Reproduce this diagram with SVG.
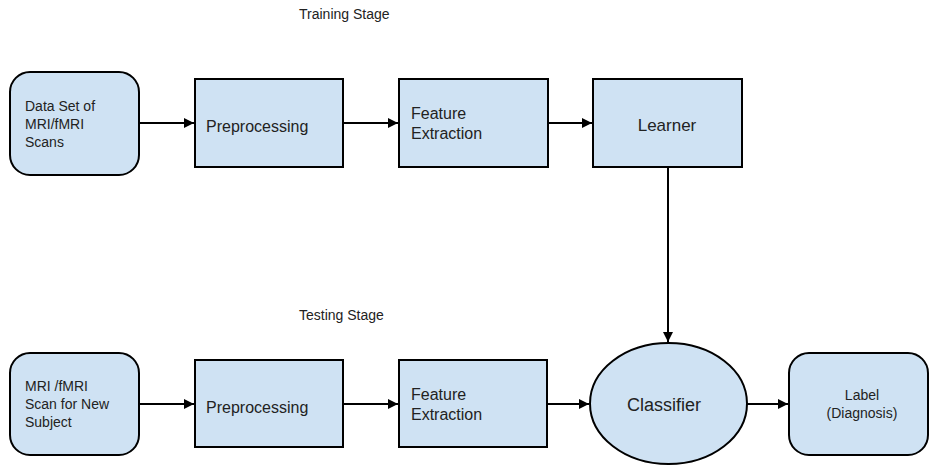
<svg xmlns="http://www.w3.org/2000/svg" width="930" height="466" viewBox="0 0 930 466">
  <defs>
    <marker id="arrow" viewBox="0 0 10 10" refX="10" refY="5" markerWidth="10" markerHeight="10" markerUnits="userSpaceOnUse" orient="auto">
      <path d="M0,0 L10,5 L0,10 Z" fill="#000"/>
    </marker>
    <style>
      .box { fill: #cfe2f3; stroke: #000; stroke-width: 2; }
      .link { fill: none; stroke: #000; stroke-width: 2; marker-end: url(#arrow); }
      text { font-family: "Liberation Sans", Arial, sans-serif; fill: #222; }
      .big { font-size: 16px; }
      .small { font-size: 14px; }
      .title { font-size: 14px; }
    </style>
  </defs>
  <rect width="930" height="466" fill="#fff"/>

  <text class="title" x="299" y="18.5">Training Stage</text>
  <text class="title" x="299" y="320">Testing Stage</text>

  <!-- training row -->
  <g id="dataset">
    <rect class="box" x="10" y="72" width="129" height="103" rx="20"/>
    <text class="small" x="25" y="110.5">Data Set of</text>
    <text class="small" x="25" y="128.5">MRI/fMRI</text>
    <text class="small" x="25" y="146.5">Scans</text>
  </g>
  <g id="preprocessing-train">
    <rect class="box" x="195" y="79" width="148" height="88"/>
    <text class="big" x="206" y="131.5">Preprocessing</text>
  </g>
  <g id="features-train">
    <rect class="box" x="399" y="79" width="149" height="88"/>
    <text class="big" x="411" y="119">Feature</text>
    <text class="big" x="411" y="139">Extraction</text>
  </g>
  <g id="learner">
    <rect class="box" x="593" y="79" width="149" height="88"/>
    <text class="big" x="667" y="130.5" text-anchor="middle" style="font-size:17px">Learner</text>
  </g>

  <!-- testing row -->
  <g id="new-scan">
    <rect class="box" x="10" y="353" width="129" height="102" rx="20"/>
    <text class="small" x="25" y="391">MRI /fMRI</text>
    <text class="small" x="25" y="409">Scan for New</text>
    <text class="small" x="25" y="427">Subject</text>
  </g>
  <g id="preprocessing-test">
    <rect class="box" x="195" y="360" width="148" height="87"/>
    <text class="big" x="206" y="412.5">Preprocessing</text>
  </g>
  <g id="features-test">
    <rect class="box" x="399" y="360" width="148" height="87"/>
    <text class="big" x="411" y="400">Feature</text>
    <text class="big" x="411" y="420">Extraction</text>
  </g>
  <g id="classifier">
    <ellipse class="box" cx="668.5" cy="403.5" rx="78.5" ry="60.5"/>
    <text class="big" x="664" y="411" text-anchor="middle" style="font-size:18px">Classifier</text>
  </g>
  <g id="label">
    <rect class="box" x="789" y="353" width="139" height="102" rx="20"/>
    <text class="small" x="862" y="400" text-anchor="middle">Label</text>
    <text class="small" x="862" y="418" text-anchor="middle">(Diagnosis)</text>
  </g>

  <g id="connectors">
    <line class="link" x1="139" y1="123" x2="194" y2="123"/>
    <line class="link" x1="343" y1="123" x2="398" y2="123"/>
    <line class="link" x1="548" y1="123" x2="592" y2="123"/>
    <line class="link" x1="668" y1="167" x2="668" y2="342"/>
    <line class="link" x1="139" y1="404" x2="194" y2="404"/>
    <line class="link" x1="343" y1="404" x2="398" y2="404"/>
    <line class="link" x1="547" y1="404" x2="589" y2="404"/>
    <line class="link" x1="747" y1="404" x2="788" y2="404"/>
  </g>
</svg>
